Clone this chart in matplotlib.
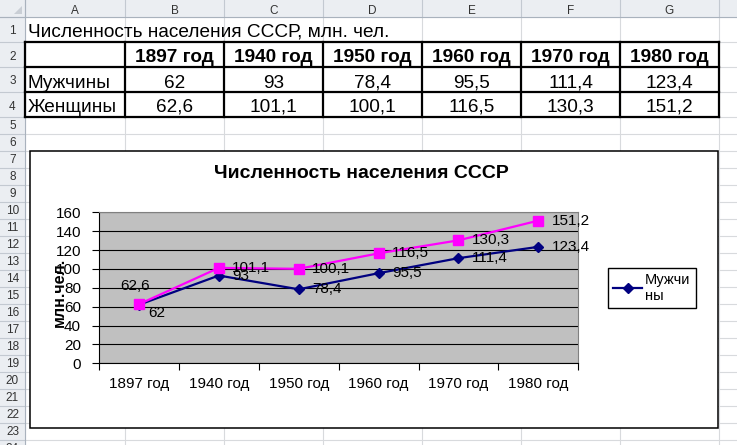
import numpy as np
import matplotlib.pyplot as plt
from matplotlib.patches import Rectangle, Polygon

plt.rcParams['font.family'] = ['Liberation Sans', 'DejaVu Sans']

# data from the sheet
years = ['1897 год', '1940 год', '1950 год', '1960 год', '1970 год', '1980 год']
series_names = ['Мужчины', 'Женщины']
men = [62, 93, 78.4, 95.5, 111.4, 123.4]
women = [62.6, 101.1, 100.1, 116.5, 130.3, 151.2]
sheet_title = 'Численность населения СССР, млн. чел.'
chart_title = 'Численность населения СССР'
y_label = 'млн.чел.'
col_letters = ['A', 'B', 'C', 'D', 'E', 'F', 'G', 'H']

W, H = 737, 445
fig = plt.figure(figsize=(W / 100, H / 100), dpi=100)

# ---- spreadsheet background, pixel coordinates ----
sh = fig.add_axes([0, 0, 1, 1])
sh.set_xlim(0, W)
sh.set_ylim(H, 0)
sh.axis('off')

col_edges = [25, 125, 224, 323, 422, 521, 620, 719, 818]
row_edges = [17, 42, 67, 92, 117] + [117 + 17 * k for k in range(1, 21)]

grid_c = '#D8DADD'
for xe in col_edges:
    sh.plot([xe, xe], [17, H], color=grid_c, lw=0.8)
for ye in row_edges:
    sh.plot([25, W], [ye, ye], color=grid_c, lw=0.8)

# headers
hdr_fill = '#EBEEF2'
hdr_line = '#C3C9D1'
sh.add_patch(Rectangle((0, 0), W, 17, fc=hdr_fill, ec='none', zorder=2))
sh.add_patch(Rectangle((0, 0), 25, H, fc=hdr_fill, ec='none', zorder=2))
for xe in col_edges:
    sh.plot([xe, xe], [0, 17], color=hdr_line, lw=0.8, zorder=3)
for ye in row_edges:
    sh.plot([0, 25], [ye, ye], color=hdr_line, lw=0.8, zorder=3)
sh.plot([0, W], [17, 17], color='#A9B2BD', lw=0.8, zorder=3)
sh.plot([25, 25], [0, H], color='#A9B2BD', lw=0.8, zorder=3)
sh.add_patch(Polygon([(22, 6), (22, 14), (14, 14)], fc='#C9CED5', ec='none', zorder=3))

for i, letter in enumerate(col_letters):
    cx = (col_edges[i] + col_edges[i + 1]) / 2
    if cx < W:
        sh.text(cx, 14.5, letter, ha='center', va='baseline',
                fontsize=8.5, color='#333333', zorder=4)
for r in range(len(row_edges) - 1):
    bottom = row_edges[r + 1]
    off = 7.5 if r < 4 else 5
    sh.text(12.5, bottom - off, str(r + 1), ha='center', va='baseline',
            fontsize=8.5, color='#333333', zorder=4)

# table text
sh.text(28, 36.5, sheet_title, fontsize=13.7, va='baseline')
for j, yr in enumerate(years):
    cx = (col_edges[j + 1] + col_edges[j + 2]) / 2
    sh.text(cx, 62.5, yr, fontsize=13.7, fontweight='bold', ha='center', va='baseline')
    sh.text(cx, 87.5, f'{men[j]:g}'.replace('.', ','), fontsize=13.7, ha='center', va='baseline')
    sh.text(cx, 112, f'{women[j]:g}'.replace('.', ','), fontsize=13.7, ha='center', va='baseline')
sh.text(28, 87.5, series_names[0], fontsize=13.7, va='baseline')
sh.text(28, 112, series_names[1], fontsize=13.7, va='baseline')

# table borders
for ye in [42, 67, 92, 117]:
    sh.plot([25, 719], [ye, ye], color='black', lw=1.6, zorder=5, solid_capstyle='projecting')
for xe in col_edges[:8]:
    sh.plot([xe, xe], [42, 117], color='black', lw=1.6, zorder=5, solid_capstyle='projecting')

# chart area
sh.add_patch(Rectangle((30, 150.7), 688.3, 277, fc='white', ec='black', lw=1.1, zorder=6))
fig.text(361 / W, 1 - 173 / H, chart_title, fontsize=14, fontweight='bold',
         ha='center', va='center')

# ---- the line chart ----
ax = fig.add_axes([99 / W, 1 - 363.3 / H, 479.3 / W, 151 / H], zorder=3)
ax.set_facecolor('#C0C0C0')
x = np.arange(len(years))
l_men, = ax.plot(x, men, color='#000080', lw=1.6, marker='D', ms=5.5, clip_on=False)
l_women, = ax.plot(x, women, color='#FF00FF', lw=1.6, marker='s', ms=7.5, clip_on=False)

ax.set_xlim(-0.5, len(years) - 0.5)
ax.set_ylim(0, 160)
ax.set_yticks(np.arange(0, 161, 20))
ax.grid(axis='y', color='black', lw=0.8)
ax.set_axisbelow(True)
ax.tick_params(axis='y', length=5, pad=8, labelsize=11)
ax.set_xticks(np.arange(-0.5, len(years)), labels=[])
ax.set_xticks(x, labels=years, minor=True)
ax.tick_params(axis='x', which='major', length=5)
ax.tick_params(axis='x', which='minor', length=0, pad=10, labelsize=11)
for s in ['top', 'right']:
    ax.spines[s].set_color('#808080')
ax.set_ylabel(y_label, fontsize=11.5, fontweight='bold', va='center')
ax.yaxis.set_label_coords(-0.083, 0.47)

# data labels
for i in range(len(years)):
    for vals, k in [(men, 0), (women, 1)]:
        txt = f'{vals[i]:g}'.replace('.', ',')
        off, ha = (9.7, 0), 'left'
        if i == 0 and k == 0:
            off = (6.5, -6)
        if i == 0 and k == 1:
            off, ha = (-2.7, 13), 'center'
        ax.annotate(txt, (x[i], vals[i]), xytext=off, textcoords='offset points',
                    ha=ha, va='center', fontsize=11)

leg_label = series_names[0][:5] + '\n' + series_names[0][5:]
leg = fig.legend(handles=[l_men], labels=[leg_label], loc='upper left',
                 bbox_to_anchor=(608 / W, 1 - 268 / H), fancybox=False,
                 edgecolor='black', framealpha=1, borderaxespad=0,
                 handlelength=2.0, handletextpad=0.2, borderpad=0.35, fontsize=10.5)
for t in leg.get_texts():
    t.set_linespacing(1.15)

fig.savefig('out.png', dpi=100)
